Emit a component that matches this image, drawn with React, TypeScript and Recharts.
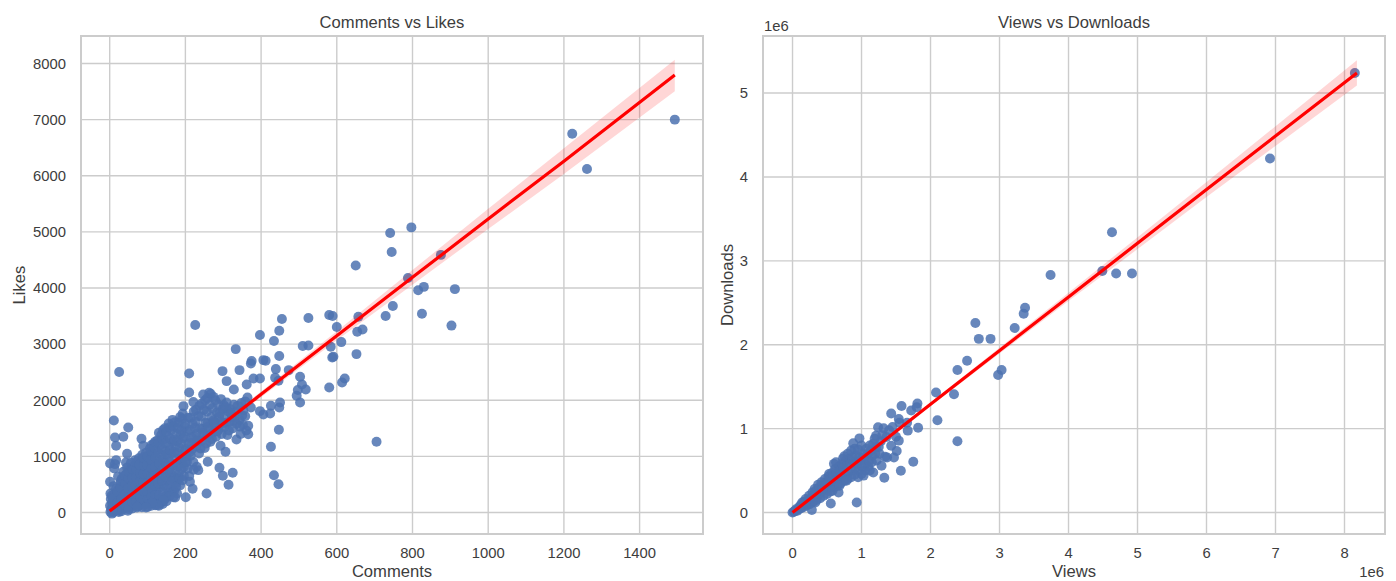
import {
  CartesianGrid,
  ComposedChart,
  Area,
  Line,
  ReferenceArea,
  Scatter,
  XAxis,
  YAxis,
  ZAxis,
} from "recharts";

const FONT = "'Liberation Sans', Arial, sans-serif";
const TEXT = "#3d3d3d";
const GRID = "#cccccc";
const DOT = "#4c72b0";

// comments, likes: the scattered points read one by one
const likesOutliers = [
  [1493, 7000], [1222, 6750], [1261, 6120], [797, 5080], [741, 4980], [745, 4640], [875, 4590],
  [650, 4400], [788, 4180], [815, 3960], [830, 4020], [912, 3980], [825, 3540], [903, 3330],
  [748, 3678], [729, 3500], [580, 3518], [589, 3500], [657, 3488], [600, 3304], [525, 3464],
  [455, 3446], [226, 3342], [448, 3238], [397, 3161], [434, 3054], [333, 2911], [525, 2977],
  [510, 2965], [584, 2953], [612, 3036], [654, 3220], [668, 3262], [652, 2822], [448, 2787],
  [588, 2763], [591, 2775], [375, 2698], [373, 2656], [406, 2715], [412, 2704], [298, 2519],
  [343, 2537], [210, 2478], [439, 2555], [473, 2537], [25, 2504], [309, 2341], [437, 2400],
  [446, 2347], [503, 2418], [362, 2282], [380, 2388], [397, 2388], [621, 2388], [614, 2317],
  [580, 2228], [508, 2282], [497, 2181], [518, 2193], [494, 2080], [503, 1961], [328, 2193],
  [210, 2139], [263, 2133], [247, 2104], [221, 1967], [195, 1895], [450, 1961], [448, 1872],
  [426, 1901], [397, 1806], [406, 1747], [424, 1765], [447, 1474], [426, 1170], [705, 1260],
  [434, 665], [446, 505], [11, 1640], [49, 1515], [14, 1337], [36, 1349], [17, 1188],
  [84, 1313], [89, 1188], [46, 1046], [17, 933], [43, 891], [1, 873], [14, 862], [12, 784],
  [1, 547], [256, 339], [201, 273], [173, 267], [219, 422], [314, 493], [299, 654],
  [325, 707], [290, 796], [259, 903], [234, 755], [230, 814], [193, 576], [212, 547],
  [306, 1081], [293, 1188], [335, 1301], [366, 1396], [366, 1545], [358, 1717], [373, 1872],
];

// the dark cloud near the origin, estimated patch by patch
const likesCloud = [
  [2, 10], [4, 60], [1, 120], [6, 180], [3, 240], [5, 300], [2, 340], [12, 30], [16, 95],
  [14, 170], [18, 250], [13, 340], [17, 430], [10, 470], [24, 45], [26, 125], [23, 215],
  [27, 300], [24, 405], [28, 520], [22, 640], [34, 60], [37, 155], [33, 265], [36, 370],
  [38, 485], [32, 600], [36, 725], [44, 85], [46, 195], [47, 310], [43, 435], [48, 560],
  [44, 680], [46, 800], [54, 120], [57, 235], [53, 365], [56, 495], [58, 630], [53, 760],
  [56, 885], [64, 130], [67, 285], [63, 410], [66, 565], [68, 700], [64, 830], [67, 930],
  [75, 110], [77, 255], [73, 400], [76, 550], [78, 690], [73, 825], [77, 965], [86, 180],
  [83, 320], [88, 470], [84, 625], [87, 770], [83, 905], [86, 1030], [96, 150], [93, 290],
  [97, 450], [94, 610], [98, 760], [93, 920], [96, 1065], [106, 170], [103, 340], [108, 510],
  [104, 680], [107, 845], [103, 990], [106, 1135], [116, 230], [113, 400], [118, 570],
  [114, 730], [117, 890], [113, 1040], [116, 1225], [126, 200], [123, 380], [128, 560],
  [124, 740], [127, 920], [123, 1100], [126, 1285], [136, 260], [133, 450], [138, 640],
  [134, 830], [137, 1020], [133, 1200], [136, 1380], [146, 240], [143, 480], [148, 700],
  [144, 900], [147, 1100], [143, 1300], [146, 1500], [156, 350], [153, 560], [158, 770],
  [154, 980], [157, 1180], [153, 1370], [156, 1585], [166, 400], [163, 620], [168, 840],
  [164, 1050], [167, 1260], [163, 1470], [166, 1650], [176, 520], [173, 740], [178, 960],
  [174, 1180], [177, 1400], [173, 1610], [186, 480], [183, 700], [188, 930], [184, 1160],
  [187, 1390], [183, 1600], [186, 1700], [196, 650], [193, 880], [198, 1100], [194, 1320],
  [197, 1530], [193, 1765], [206, 780], [203, 1000], [208, 1230], [204, 1450], [207, 1690],
  [221, 900], [218, 1130], [223, 1360], [219, 1580], [222, 1800], [236, 1050], [233, 1270],
  [238, 1500], [234, 1720], [237, 1900], [251, 1150], [248, 1380], [253, 1600], [249, 1830],
  [252, 2000], [266, 1260], [263, 1480], [268, 1700], [264, 1920], [267, 2110], [281, 1350],
  [278, 1560], [283, 1780], [279, 2000], [296, 1400], [293, 1620], [298, 1840], [294, 2020],
  [311, 1380], [308, 1600], [313, 1800], [309, 1960], [326, 1500], [323, 1700], [328, 1920],
  [346, 1400], [343, 1650], [348, 1950], [361, 1460], [358, 1980], [364, 2050], [120, 130],
  [135, 170], [150, 300], [168, 270], [85, 95], [60, 70], [30, 20], [10, 5], [6, -20],
];

// second pass over the same cloud, filling what the first pass left open
const likesCloudFill = [
  [8, 130], [9, 260], [20, 170], [21, 370], [30, 90], [31, 240], [29, 450], [30, 570], [40, 120],
  [41, 330], [42, 520], [40, 660], [50, 60], [51, 270], [49, 430], [50, 610], [51, 720], [60, 180],
  [61, 340], [59, 470], [60, 620], [61, 770], [70, 190], [71, 340], [69, 480], [70, 630], [71, 770],
  [70, 890], [80, 140], [81, 270], [79, 400], [80, 550], [81, 700], [79, 850], [90, 230], [91, 380],
  [89, 540], [90, 690], [91, 840], [89, 980], [100, 100], [101, 250], [99, 390], [100, 530],
  [101, 690], [99, 850], [100, 1000], [110, 120], [111, 290], [109, 450], [110, 620], [111, 790],
  [109, 940], [110, 1090], [110, 1200], [120, 310], [121, 480], [119, 650], [120, 810], [121, 980],
  [119, 1150], [120, 1260], [130, 120], [131, 310], [129, 520], [130, 700], [131, 880], [129, 1060],
  [130, 1240], [130, 1420], [140, 150], [141, 360], [139, 560], [140, 760], [141, 950], [139, 1130],
  [140, 1310], [141, 1470], [150, 200], [151, 430], [149, 630], [150, 840], [151, 1040], [149, 1240],
  [150, 1440], [160, 480], [161, 700], [159, 900], [160, 1110], [161, 1310], [159, 1520], [170, 380],
  [171, 620], [169, 850], [170, 1080], [171, 1300], [169, 1530], [180, 600], [181, 830], [179, 1050],
  [180, 1280], [181, 1500], [190, 780], [191, 1010], [189, 1230], [190, 1460], [191, 1670], [200, 900],
  [201, 1130], [199, 1350], [200, 1580], [214, 1010], [215, 1240], [213, 1470], [214, 1690],
  [228, 1180], [229, 1400], [227, 1620], [228, 1830], [243, 1280], [244, 1490], [242, 1710],
  [243, 1940], [258, 1370], [259, 1590], [257, 1800], [258, 2040], [273, 1420], [274, 1640],
  [272, 1860], [274, 2060], [288, 1480], [289, 1700], [287, 1920], [303, 1520], [304, 1730],
  [302, 1910], [318, 1620], [319, 1840], [335, 1580], [336, 1800], [352, 1560], [353, 1820],
  [212, 1080], [216, 1330], [225, 1510], [231, 1280], [240, 1140], [246, 1420], [255, 1230],
  [261, 1530], [270, 1310], [276, 1610], [285, 1450], [291, 1770], [300, 1590], [306, 1870],
  [315, 1460], [321, 1770], [330, 1640], [338, 1900], [344, 1530], [350, 1730], [166, 560],
  [176, 460], [185, 610], [196, 810], [204, 900], [210, 650], [222, 760], [178, 340], [158, 290],
  [142, 220], [126, 130], [112, 170], [96, 90], [72, 90], [48, 30], [24, 10], [18, 40], [8, 60],
];

const likesFit = [
  { x: 0, y: 25, band: [-5, 55] },
  { x: 200, y: 1060, band: [1020, 1100] },
  { x: 400, y: 2105, band: [2055, 2155] },
  { x: 600, y: 3150, band: [3070, 3230] },
  { x: 800, y: 4190, band: [4060, 4320] },
  { x: 1000, y: 5230, band: [5050, 5410] },
  { x: 1200, y: 6260, band: [6030, 6490] },
  { x: 1493, y: 7795, band: [7505, 8065] },
];

// views, downloads, both in millions
const downloadsOutliers = [
  [8.15, 5.24], [6.92, 4.22], [4.63, 3.34], [4.49, 2.88], [4.69, 2.85], [4.92, 2.85],
  [3.74, 2.83], [3.35, 2.37], [3.37, 2.44], [3.22, 2.2], [2.65, 2.26], [2.7, 2.07],
  [2.87, 2.07], [2.53, 1.81], [2.39, 1.7], [3.03, 1.7], [2.98, 1.64], [2.34, 1.41],
  [2.08, 1.43], [2.1, 1.1], [2.39, 0.85], [1.58, 1.27], [1.43, 1.18], [1.81, 1.3],
  [1.72, 1.215], [1.8, 1.255], [1.54, 1.115], [1.55, 1.07], [1.66, 1.07], [1.67, 0.976],
  [1.82, 1.01], [1.24, 1.016], [1.32, 1.004], [1.21, 0.916], [0.97, 0.884], [0.88, 0.825],
  [1.5, 0.904], [1.54, 0.857], [1.43, 0.797], [1.51, 0.733], [1.47, 0.657], [1.37, 0.657],
  [1.75, 0.606], [1.57, 0.498], [1.33, 0.414], [1.17, 0.478], [1.29, 0.558], [1.34, 0.665],
  [0.93, 0.12], [0.555, 0.108], [0.667, 0.239], [0.28, 0.03],
];

const downloadsCloud = [
  [0.0, 0.0], [0.02, 0.01], [0.04, 0.02], [0.05, 0.04], [0.09, 0.04], [0.1, 0.07], [0.12, 0.09],
  [0.15, 0.06], [0.16, 0.09], [0.14, 0.12], [0.2, 0.08], [0.21, 0.12], [0.19, 0.16],
  [0.25, 0.1], [0.26, 0.15], [0.24, 0.2], [0.3, 0.13], [0.31, 0.18], [0.29, 0.24], [0.32, 0.28],
  [0.35, 0.15], [0.36, 0.2], [0.34, 0.26], [0.37, 0.33], [0.4, 0.17], [0.41, 0.24], [0.39, 0.3],
  [0.42, 0.36], [0.45, 0.2], [0.46, 0.27], [0.44, 0.33], [0.47, 0.4], [0.5, 0.22], [0.51, 0.3],
  [0.49, 0.36], [0.52, 0.43], [0.53, 0.46], [0.55, 0.25], [0.56, 0.33], [0.54, 0.4], [0.57, 0.47],
  [0.6, 0.3], [0.61, 0.36], [0.59, 0.44], [0.62, 0.52], [0.6, 0.58], [0.65, 0.32], [0.66, 0.4],
  [0.64, 0.47], [0.67, 0.55], [0.63, 0.6], [0.7, 0.35], [0.71, 0.43], [0.69, 0.5], [0.72, 0.58],
  [0.73, 0.64], [0.75, 0.38], [0.76, 0.46], [0.74, 0.54], [0.77, 0.62], [0.75, 0.67], [0.8, 0.4],
  [0.81, 0.48], [0.79, 0.56], [0.82, 0.64], [0.8, 0.7], [0.85, 0.42], [0.86, 0.5], [0.84, 0.58],
  [0.87, 0.66], [0.85, 0.74], [0.9, 0.45], [0.91, 0.53], [0.89, 0.6], [0.92, 0.68], [0.9, 0.76],
  [0.95, 0.42], [0.96, 0.5], [0.94, 0.58], [0.97, 0.66], [0.95, 0.75], [1.0, 0.46], [1.01, 0.55],
  [0.99, 0.62], [1.02, 0.7], [1.0, 0.8], [1.05, 0.5], [1.06, 0.58], [1.04, 0.66], [1.07, 0.76],
  [1.1, 0.55], [1.11, 0.62], [1.09, 0.7], [1.12, 0.8], [1.15, 0.6], [1.16, 0.68], [1.14, 0.74],
  [1.17, 0.82], [1.2, 0.7], [1.21, 0.78], [1.19, 0.88], [1.25, 0.78], [1.28, 0.85], [1.3, 0.92],
  [1.36, 0.9], [1.4, 0.98], [1.45, 1.02], [1.22, 0.62], [1.26, 0.7], [1.12, 0.5], [1.03, 0.44],
  [0.07, 0.02], [0.12, 0.05], [0.17, 0.13], [0.22, 0.1], [0.27, 0.17], [0.33, 0.12], [0.38, 0.22],
  [0.43, 0.28], [0.48, 0.32], [0.33, 0.22], [0.58, 0.26], [0.68, 0.32], [0.78, 0.38],
];

const downloadsFit = [
  { x: 0, y: 0.0, band: [-0.01, 0.01] },
  { x: 2, y: 1.29, band: [1.27, 1.31] },
  { x: 4, y: 2.57, band: [2.52, 2.62] },
  { x: 6, y: 3.85, band: [3.76, 3.94] },
  { x: 8.18, y: 5.24, band: [5.09, 5.39] },
];

const likesTicksX = [0, 200, 400, 600, 800, 1000, 1200, 1400];
const likesTicksY = [0, 1000, 2000, 3000, 4000, 5000, 6000, 7000, 8000];
const downloadsTicksX = [0, 1, 2, 3, 4, 5, 6, 7, 8];
const downloadsTicksY = [0, 1, 2, 3, 4, 5];

const toPoints = (rows: number[][]) => rows.map(([x, y]) => ({ x, y }));

interface PanelProps {
  left: number;
  width: number;
  axisWidth: number;
  rightGap: number;
  title: string;
  xLabel: string;
  yLabel: string;
  xDomain: [number, number];
  yDomain: [number, number];
  xTicks: number[];
  yTicks: number[];
  points: number[][];
  fit: { x: number; y: number; band: number[] }[];
  yLabelX: number;
  children?: React.ReactNode;
}

function Panel(p: PanelProps) {
  const plotCenter = p.axisWidth + (p.width - p.axisWidth - p.rightGap) / 2;
  return (
    <div style={{ position: "absolute", left: p.left, top: 0 }}>
      <ComposedChart
        width={p.width}
        height={581}
        margin={{ top: 36, right: p.rightGap, bottom: 0, left: 0 }}
      >
        <CartesianGrid stroke={GRID} strokeWidth={1.4} />
        <ReferenceArea
          x1={p.xDomain[0]}
          x2={p.xDomain[1]}
          y1={p.yDomain[0]}
          y2={p.yDomain[1]}
          fill="none"
          stroke={GRID}
          strokeWidth={2}
          fillOpacity={0}
          strokeOpacity={1}
        />
        <XAxis
          type="number"
          dataKey="x"
          domain={p.xDomain}
          ticks={p.xTicks}
          allowDataOverflow
          height={47}
          axisLine={false}
          tickLine={false}
          tickMargin={7}
          tick={{ fill: TEXT, fontSize: 14.8, fontFamily: FONT }}
        />
        <YAxis
          type="number"
          width={p.axisWidth}
          domain={p.yDomain}
          ticks={p.yTicks}
          allowDataOverflow
          axisLine={false}
          tickLine={false}
          tickMargin={9}
          tick={{ fill: TEXT, fontSize: 14.8, fontFamily: FONT }}
        />
        <ZAxis range={[78, 78]} />
        <Scatter
          data={toPoints(p.points)}
          dataKey="y"
          fill={DOT}
          fillOpacity={0.85}
          isAnimationActive={false}
        />
        <Area
          data={p.fit}
          dataKey="band"
          type="linear"
          stroke="none"
          fill="#ff0000"
          fillOpacity={0.16}
          dot={false}
          activeDot={false}
          isAnimationActive={false}
          zIndex={700}
        />
        <Line
          data={p.fit}
          dataKey="y"
          type="linear"
          stroke="#ff0000"
          strokeWidth={3.2}
          dot={false}
          activeDot={false}
          isAnimationActive={false}
          zIndex={800}
        />
        <text x={plotCenter} y={28} textAnchor="middle" fill={TEXT} fontSize={16.6} fontFamily={FONT}>
          {p.title}
        </text>
        <text x={plotCenter} y={577} textAnchor="middle" fill={TEXT} fontSize={16.6} fontFamily={FONT}>
          {p.xLabel}
        </text>
        <text
          x={p.yLabelX}
          y={285}
          textAnchor="middle"
          fill={TEXT}
          fontSize={16.6}
          fontFamily={FONT}
          transform={`rotate(-90 ${p.yLabelX} 285)`}
        >
          {p.yLabel}
        </text>
        {p.children}
      </ComposedChart>
    </div>
  );
}

export default function App() {
  return (
    <div style={{ position: "absolute", left: 0, top: 0, width: 1396, height: 581, background: "#fff" }}>
      <Panel
        left={0}
        width={720}
        axisWidth={81}
        rightGap={17}
        title="Comments vs Likes"
        xLabel="Comments"
        yLabel="Likes"
        xDomain={[-75.8, 1567.5]}
        yDomain={[-383, 8490]}
        xTicks={likesTicksX}
        yTicks={likesTicksY}
        points={[...likesCloud, ...likesCloudFill, ...likesOutliers]}
        fit={likesFit}
        yLabelX={25}
      />
      <Panel
        left={700}
        width={696}
        axisWidth={63}
        rightGap={11}
        title="Views vs Downloads"
        xLabel="Views"
        yLabel="Downloads"
        xDomain={[-0.428, 8.587]}
        yDomain={[-0.256, 5.68]}
        xTicks={downloadsTicksX}
        yTicks={downloadsTicksY}
        points={[...downloadsCloud, ...downloadsOutliers]}
        fit={downloadsFit}
        yLabelX={33}
      >
        <text x={64} y={31} fill={TEXT} fontSize={14.8} fontFamily={FONT}>
          1e6
        </text>
        <text x={684} y={577} textAnchor="end" fill={TEXT} fontSize={14.8} fontFamily={FONT}>
          1e6
        </text>
      </Panel>
    </div>
  );
}
